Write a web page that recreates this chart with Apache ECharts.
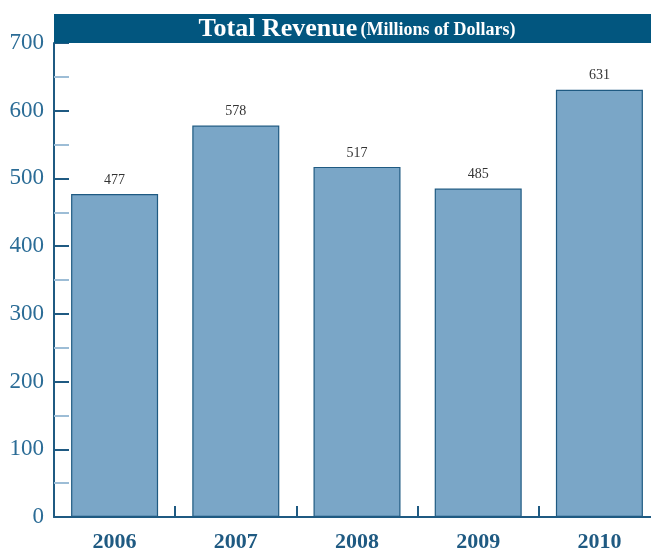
<!DOCTYPE html>
<html>
<head>
<meta charset="utf-8">
<script src="https://cdn.jsdelivr.net/npm/echarts@6/dist/echarts.min.js"></script>
<style>
html,body{margin:0;padding:0;background:#fff;}
#c{width:651px;height:550px;}
</style>
</head>
<body>
<div id="c"></div>
<script>
const categories = ['2006', '2007', '2008', '2009', '2010'];
const revenue = [477, 578, 517, 485, 631];
const yTicks = [0, 100, 200, 300, 400, 500, 600, 700];

const serif = '"Liberation Serif", "DejaVu Serif", serif';
const chart = echarts.init(document.getElementById('c'));
chart.setOption({
  animation: false,
  backgroundColor: '#fff',
  grid: { left: 54, top: 43, width: 606, height: 474, containLabel: false, outerBoundsMode: 'none' },
  graphic: [
    { type: 'rect', shape: { x: 54, y: 14, width: 597, height: 29 }, style: { fill: '#02567f' }, z: 10 },
    { type: 'text', x: 357, y: 29, z: 11,
      style: {
        text: '{a|Total Revenue} {b|(Millions of Dollars)}',
        align: 'center', verticalAlign: 'middle',
        rich: {
          a: { fontFamily: serif, fontSize: 26, fontWeight: 'bold', fill: '#fff' },
          b: { fontFamily: serif, fontSize: 18, fontWeight: 'bold', fill: '#fff', padding: [3, 0, 0, 0] }
        }
      }
    }
  ],
  xAxis: {
    type: 'category',
    data: categories,
    boundaryGap: true,
    axisLine: { show: true, lineStyle: { color: '#1f5a82', width: 2 } },
    axisTick: { show: true, inside: true, length: 11, interval: 0, lineStyle: { color: '#1f5a82', width: 2 } },
    axisLabel: { fontFamily: serif, fontSize: 22, fontWeight: 'bold', color: '#1f5a82', margin: 14 }
  },
  yAxis: {
    type: 'value',
    min: yTicks[0], max: yTicks[yTicks.length - 1], interval: 100,
    axisLine: { show: true, lineStyle: { color: '#1f5a82', width: 2 } },
    axisTick: { show: true, inside: true, length: 15, lineStyle: { color: '#1f5a82', width: 2 } },
    minorTick: { show: true, splitNumber: 2, length: 15, lineStyle: { color: '#9dbdd6', width: 2 } },
    splitLine: { show: false },
    axisLabel: { fontFamily: serif, fontSize: 23, color: '#2b6c96', margin: 10 }
  },
  series: [{
    type: 'bar',
    data: revenue,
    barWidth: 87,
    itemStyle: { color: '#7aa6c7', borderColor: '#1f5a82', borderWidth: 1.2 },
    label: { show: true, position: 'top', distance: 7, fontFamily: serif, fontSize: 14, color: '#333' }
  }]
});
</script>
</body>
</html>
